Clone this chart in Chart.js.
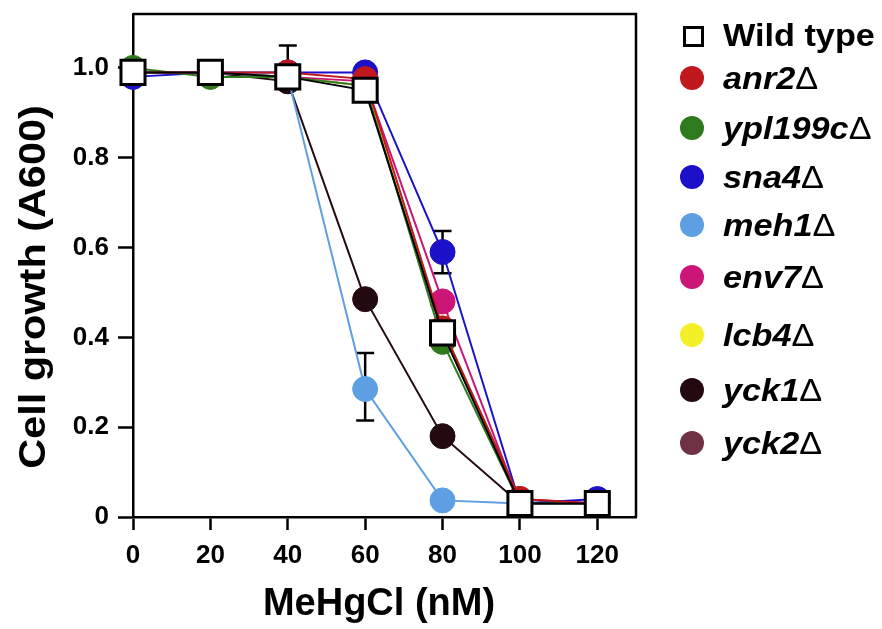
<!DOCTYPE html>
<html>
<head>
<meta charset="utf-8">
<script src="https://cdn.jsdelivr.net/npm/chart.js@4/dist/chart.umd.min.js"></script>
<style>
  body { margin: 0; background: #fff; }
  #wrap { position: relative; width: 882px; height: 629px; }
  #legend { position: absolute; left: 0; top: 0; width: 882px; height: 629px; pointer-events: none;
            font-family: "Liberation Sans", Arial, sans-serif; font-weight: bold; font-size: 32px; color: #000; }
  .item { position: absolute; left: 676px; height: 40px; line-height: 40px; white-space: nowrap; }
  .mark { position: absolute; left: 4px; top: 8px; width: 24px; height: 24px; border-radius: 50%; }
  .mark.sq { left: 7px; top: 11px; width: 15px; height: 15px; border-radius: 0; border: 3px solid #000; background: #fff; }
  .txt { position: absolute; left: 47px; top: 0; transform: scaleX(1.07); transform-origin: 0 50%; }
  .txt i { font-style: italic; }
  .delta { font-style: normal; font-weight: normal; }
</style>
</head>
<body>
<div id="wrap">
  <canvas id="chart" width="882" height="629"></canvas>
  <div id="legend"></div>
</div>
<script>
// MeHgCl concentration (nM)
const doses = [0, 20, 40, 60, 80, 100, 120];

const strains = ['Wild type', 'anr2', 'ypl199c', 'sna4', 'meh1', 'env7', 'lcb4', 'yck1', 'yck2'];
const colors = ['#000000', '#c0181c', '#2f7a1c', '#1c10c8', '#5e9ee2', '#cc1677', '#f3f02a', '#220a10', '#6e3244'];

// cell growth (A600)
const wildType = [0.99, 0.99, 0.98, 0.95, 0.41, 0.03, 0.03];
const anr2     = [0.99, 0.99, 0.99, 0.975, 0.42, 0.04, 0.03];
const ypl199c  = [1.00, 0.98, 0.98, 0.96, 0.39, 0.03, 0.03];
const sna4     = [0.98, 0.99, 0.99, 0.99, 0.59, 0.03, 0.04];
const meh1     = [0.99, 0.99, 0.98, 0.285, 0.037, 0.03, 0.03];
const env7     = [0.99, 0.99, 0.98, 0.97, 0.48, 0.03, 0.03];
const lcb4     = [0.99, 0.99, 0.98, 0.96, 0.42, 0.03, 0.03];
const yck1     = [0.99, 0.99, 0.97, 0.485, 0.18, 0.03, 0.03];
const yck2     = [0.99, 0.99, 0.98, 0.96, 0.41, 0.04, 0.03];
const series = [wildType, anr2, ypl199c, sna4, meh1, env7, lcb4, yck1, yck2];

// error bars [minus, plus], only where they show
const anr2Err = [null, null, [0, 0.06], null, null, null, null];
const sna4Err = [null, null, null, null, [0.047, 0.047], null, null];
const meh1Err = [null, null, null, [0.07, 0.08], null, null, null];
const errors = { 1: anr2Err, 3: sna4Err, 4: meh1Err };

const yTicks = [0, 0.2, 0.4, 0.6, 0.8, 1.0];
const xTitle = 'MeHgCl (nM)';
const yTitle = 'Cell growth (A600)';

const FONT = '"Liberation Sans", Arial, sans-serif';

const datasets = series.map((vals, i) => {
  const isWT = i === 0;
  return {
    label: strains[i],
    data: doses.map((d, j) => ({ x: d, y: vals[j] })),
    borderColor: colors[i],
    borderWidth: 2,
    pointStyle: isWT ? 'rect' : 'circle',
    pointRadius: isWT ? 17 : 12.5,
    pointBackgroundColor: isWT ? '#fff' : colors[i],
    pointBorderColor: colors[i],
    pointBorderWidth: isWT ? 3 : 1,
    tension: 0,
    clip: false
  };
});

// error bars under the symbols
const errorBars = {
  id: 'errorBars',
  beforeDatasetsDraw(chart) {
    const ctx = chart.ctx;
    const xs = chart.scales.x, ys = chart.scales.y;
    ctx.save();
    ctx.strokeStyle = '#000';
    ctx.lineWidth = 2.5;
    Object.keys(errors).forEach(k => {
      const vals = series[k];
      errors[k].forEach((e, j) => {
        if (!e) return;
        const px = xs.getPixelForValue(doses[j]);
        const lo = ys.getPixelForValue(vals[j] - e[0]);
        const hi = ys.getPixelForValue(vals[j] + e[1]);
        ctx.beginPath();
        ctx.moveTo(px, lo); ctx.lineTo(px, hi);
        ctx.moveTo(px - 9, hi); ctx.lineTo(px + 9, hi);
        if (e[0] > 0) { ctx.moveTo(px - 9, lo); ctx.lineTo(px + 9, lo); }
        ctx.stroke();
      });
    });
    ctx.restore();
  }
};

// top and right sides of the frame
const frame = {
  id: 'frame',
  beforeDatasetsDraw(chart) {
    const { ctx, chartArea: a } = chart;
    ctx.save();
    ctx.strokeStyle = '#000';
    ctx.lineWidth = 2.5;
    ctx.beginPath();
    ctx.moveTo(a.left, a.top);
    ctx.lineTo(a.right, a.top);
    ctx.lineTo(a.right, a.bottom);
    ctx.stroke();
    ctx.restore();
  }
};

// axis titles, placed by hand (the originals are slightly stretched)
const axisTitles = {
  id: 'axisTitles',
  afterDraw(chart) {
    const ctx = chart.ctx;
    ctx.save();
    ctx.fillStyle = '#000';
    ctx.textAlign = 'center';
    ctx.textBaseline = 'alphabetic';
    ctx.font = 'bold 38px ' + FONT;
    ctx.fillText(xTitle, 379, 615);
    ctx.translate(45, 287);
    ctx.rotate(-Math.PI / 2);
    ctx.scale(1.15, 1);
    ctx.font = 'bold 36px ' + FONT;
    ctx.fillText(yTitle, 0, 0);
    ctx.restore();
  }
};

new Chart(document.getElementById('chart'), {
  type: 'line',
  data: { datasets },
  options: {
    responsive: false,
    animation: false,
    layout: { autoPadding: false, padding: { left: 0, right: 246, top: 14, bottom: 0 } },
    plugins: { legend: { display: false }, tooltip: { enabled: false } },
    scales: {
      x: {
        type: 'linear',
        min: 0, max: 130,
        afterFit(scale) {
          scale.height = 112;
          scale.paddingLeft = 0; scale.paddingRight = 0;
        },
        border: { display: true, color: '#000', width: 2.5 },
        grid: { drawOnChartArea: false, drawTicks: true, tickLength: 13, tickWidth: 2.5, tickColor: '#000', color: '#000' },
        ticks: {
          stepSize: 20, includeBounds: false, autoSkip: false, maxRotation: 0,
          padding: 10, color: '#000',
          font: { family: FONT, size: 26, weight: 'bold' }
        },
        title: { display: false }
      },
      y: {
        min: 0, max: 1.12,
        afterFit(scale) {
          scale.width = 133;
          scale.paddingTop = 0; scale.paddingBottom = 0;
        },
        afterBuildTicks(scale) { scale.ticks = yTicks.map(v => ({ value: v })); },
        border: { display: true, color: '#000', width: 2.5 },
        grid: { drawOnChartArea: false, drawTicks: true, tickLength: 15, tickWidth: 2.5, tickColor: '#000', color: '#000' },
        ticks: {
          includeBounds: false, padding: 9, color: '#000',
          font: { family: FONT, size: 26, weight: 'bold' },
          callback: v => v === 0 ? '0' : v.toFixed(1)
        },
        title: { display: false }
      }
    }
  },
  plugins: [errorBars, frame, axisTitles]
});

// legend: symbols only, as in the figure
const rowTops = [15, 58, 108, 157, 205, 257, 315, 370, 423];
const legend = document.getElementById('legend');
strains.forEach((name, i) => {
  const item = document.createElement('div');
  item.className = 'item';
  item.style.top = rowTops[i] + 'px';
  const mark = document.createElement('div');
  if (i === 0) {
    mark.className = 'mark sq';
  } else {
    mark.className = 'mark';
    mark.style.background = colors[i];
  }
  const txt = document.createElement('div');
  txt.className = 'txt';
  txt.innerHTML = i === 0 ? name : '<i>' + name + '</i><span class="delta">\u0394</span>';
  item.appendChild(mark);
  item.appendChild(txt);
  legend.appendChild(item);
});
</script>
</body>
</html>
